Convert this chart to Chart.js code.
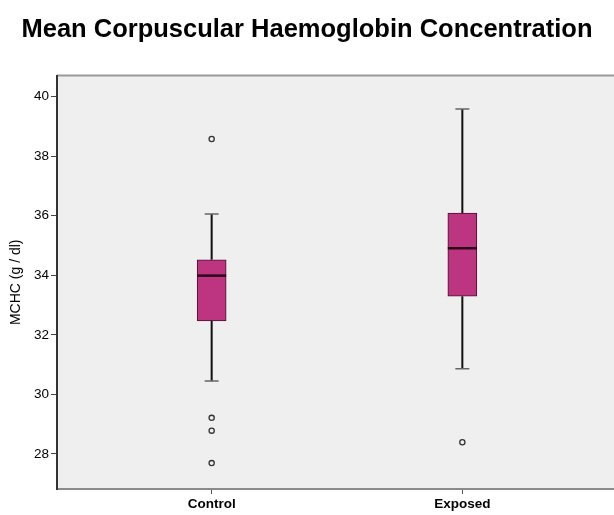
<!DOCTYPE html>
<html>
<head>
<meta charset="utf-8">
<script src="https://cdn.jsdelivr.net/npm/chart.js@4"></script>
<style>
  html, body { margin: 0; padding: 0; background: #ffffff; }
  #wrap { width: 614px; height: 515px; position: relative; }
</style>
</head>
<body>
<div id="wrap"><canvas id="c" width="614" height="515"></canvas></div>
<script>
// MCHC by group: five-number summaries and outlying values (g/dl)
const categories   = ['Control', 'Exposed'];
const whiskerLow   = [30.45, 30.86];
const q1           = [32.47, 33.30];
const median       = [33.99, 34.91];
const q3           = [34.52, 36.09];
const whiskerHigh  = [36.06, 39.59];
const outliers     = [[38.58, 29.21, 28.78, 27.69], [28.39]];
const yTickValues  = [28, 30, 32, 34, 36, 38, 40];

const boxData = categories.map((c, i) => ({ x: i + 1, y: [q1[i], q3[i]] }));
const outlierData = [];
outliers.forEach((list, i) => list.forEach(v => outlierData.push({ x: i + 1, y: v })));

// Plot background, top frame line, whiskers and medians
const boxplotParts = {
  id: 'boxplotParts',
  beforeDraw(chart) {
    const { ctx, chartArea: a } = chart;
    ctx.save();
    ctx.fillStyle = '#efefef';
    ctx.fillRect(a.left, a.top, a.right - a.left, a.bottom - a.top);
    ctx.strokeStyle = '#9a9a9a';
    ctx.lineWidth = 2;
    ctx.beginPath();
    ctx.moveTo(a.left, a.top);
    ctx.lineTo(a.right, a.top);
    ctx.stroke();
    ctx.restore();
  },
  beforeDatasetsDraw(chart) {
    const { ctx, scales: { x, y } } = chart;
    ctx.save();
    categories.forEach((c, i) => {
      const cx = x.getPixelForValue(i + 1);
      ctx.strokeStyle = '#111111';
      ctx.lineWidth = 2;
      ctx.beginPath();
      ctx.moveTo(cx, y.getPixelForValue(q3[i]));
      ctx.lineTo(cx, y.getPixelForValue(whiskerHigh[i]));
      ctx.moveTo(cx, y.getPixelForValue(q1[i]));
      ctx.lineTo(cx, y.getPixelForValue(whiskerLow[i]));
      ctx.stroke();
      ctx.strokeStyle = '#666666';
      ctx.lineWidth = 1.5;
      ctx.beginPath();
      [whiskerHigh[i], whiskerLow[i]].forEach(v => {
        const py = y.getPixelForValue(v);
        ctx.moveTo(cx - 7, py);
        ctx.lineTo(cx + 7, py);
      });
      ctx.stroke();
    });
    ctx.restore();
  },
  afterDatasetsDraw(chart) {
    const { ctx, scales: { x, y } } = chart;
    const meta = chart.getDatasetMeta(0);
    ctx.save();
    ctx.strokeStyle = '#2a0818';
    ctx.lineWidth = 2.5;
    categories.forEach((c, i) => {
      const bar = meta.data[i];
      const half = bar.width / 2;
      const cx = x.getPixelForValue(i + 1);
      const py = y.getPixelForValue(median[i]);
      ctx.beginPath();
      ctx.moveTo(cx - half, py);
      ctx.lineTo(cx + half, py);
      ctx.stroke();
    });
    ctx.restore();
  }
};

new Chart(document.getElementById('c'), {
  type: 'bar',
  data: {
    datasets: [
      {
        type: 'bar',
        data: boxData,
        backgroundColor: '#bd3480',
        borderColor: '#4a1030',
        borderWidth: 1,
        borderSkipped: false,
        barThickness: 29,
        order: 2
      },
      {
        type: 'scatter',
        data: outlierData,
        pointStyle: 'circle',
        pointRadius: 2.6,
        pointBorderWidth: 1.3,
        pointBorderColor: '#333333',
        pointBackgroundColor: 'rgba(0,0,0,0)',
        order: 1
      }
    ]
  },
  options: {
    responsive: false,
    animation: false,
    layout: { autoPadding: false, padding: 0 },
    plugins: {
      legend: { display: false },
      tooltip: { enabled: false },
      title: {
        display: true,
        text: 'Mean Corpuscular Haemoglobin Concentration',
        color: '#000000',
        font: { family: 'Liberation Sans, Arial, sans-serif', size: 25.5, weight: 'bold' },
        padding: { top: 15, bottom: 30 }
      }
    },
    scales: {
      x: {
        type: 'linear',
        offset: false,
        min: 0.383,
        max: 2.605,
        afterDataLimits(scale) {
          scale.min = 0.383;
          scale.max = 2.605;
        },
        afterBuildTicks(scale) {
          scale.ticks = categories.map((c, i) => ({ value: i + 1 }));
        },
        afterFit(scale) {
          scale.height = 26;
        },
        ticks: {
          autoSkip: false,
          padding: 2,
          color: '#000000',
          font: { family: 'Liberation Sans, Arial, sans-serif', size: 13.5, weight: 'bold' },
          callback: (v) => categories[v - 1] || ''
        },
        grid: { offset: false, drawOnChartArea: false, drawTicks: true, tickLength: 5, tickColor: '#555555', tickWidth: 1 },
        border: { display: true, color: '#8a8a8a', width: 2 }
      },
      y: {
        type: 'linear',
        min: 26.82,
        max: 40.71,
        afterBuildTicks(scale) {
          scale.ticks = yTickValues.map(v => ({ value: v }));
        },
        afterFit(scale) { scale.width = 57; },
        title: {
          display: true,
          text: 'MCHC (g / dl)',
          color: '#000000',
          font: { family: 'Liberation Sans, Arial, sans-serif', size: 14 },
          padding: { top: 8, bottom: 0 }
        },
        ticks: {
          padding: 2,
          color: '#000000',
          font: { family: 'Liberation Sans, Arial, sans-serif', size: 13.5 }
        },
        grid: { drawOnChartArea: false, drawTicks: true, tickLength: 6, tickColor: '#444444', tickWidth: 1 },
        border: { display: true, color: '#333333', width: 2 }
      }
    }
  },
  plugins: [boxplotParts]
});
</script>
</body>
</html>
